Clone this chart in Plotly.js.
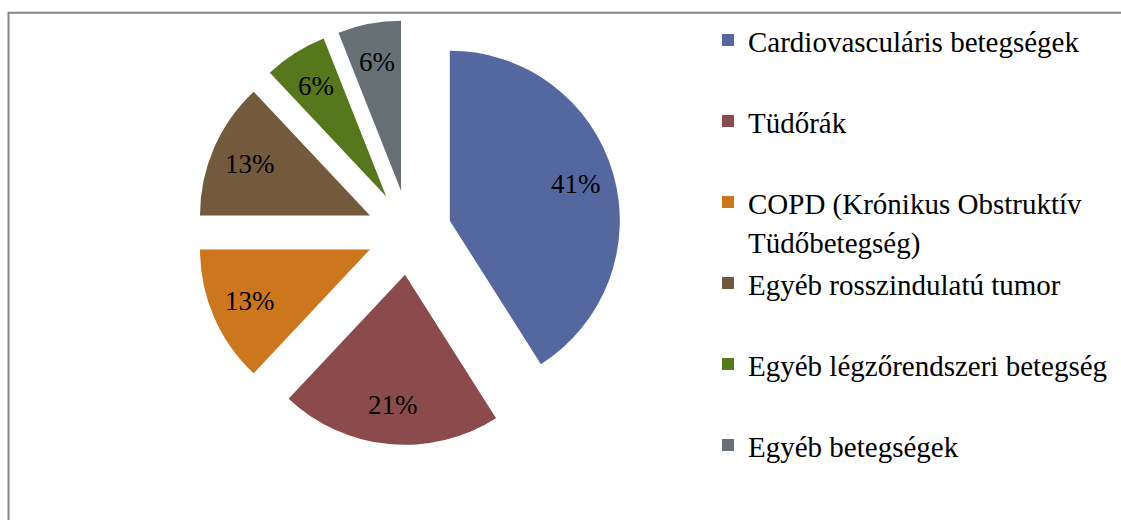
<!DOCTYPE html>
<html>
<head>
<meta charset="utf-8">
<script src="https://cdn.plot.ly/plotly-3.0.1.min.js"></script>
<style>html,body{margin:0;padding:0;background:#fff;}#chart{width:1121px;height:520px;}</style>
</head>
<body>
<div id="chart"></div>
<script>
const categories = [
  "Cardiovasculáris betegségek",
  "Tüdőrák",
  "COPD (Krónikus Obstruktív<br>Tüdőbetegség)",
  "Egyéb rosszindulatú tumor",
  "Egyéb légzőrendszeri betegség",
  "Egyéb betegségek"
];
const values = [41, 21, 13, 13, 6, 6];
const percentLabels = ["41%", "21%", "13%", "13%", "6%", "6%"];
const colors = ["#55679F", "#8B4A4B", "#CC761E", "#745A3D", "#56771B", "#677075"];

const serif = "'Liberation Serif', 'Times New Roman', serif";
const LABEL_SIZE = 27;
const LEGEND_TEXT_SIZE = 29;

// legend labels: wrap in larger span, pad to two lines so all entries are evenly spaced
const legendLabels = categories.map(c => {
  const parts = c.split("<br>");
  const lines = parts.map(p => `<span style="font-size:${LEGEND_TEXT_SIZE}px">${p}</span>`);
  while (lines.length < 2) lines.push(" ");
  return lines.join("<br>");
});

const W = 1121, H = 520;
const cx = 409, cy = 232.5, half = 212.5;
const PULL = 0.25;
const LABEL_FRAC = 0.77;

const trace = {
  type: "pie",
  labels: legendLabels,
  values: values,
  textinfo: "none",
  sort: false,
  direction: "clockwise",
  rotation: 0,
  pull: PULL,
  marker: { colors: colors, line: { width: 0 } },
  hoverinfo: "label+percent",
  domain: {
    x: [(cx - half) / W, (cx + half) / W],
    y: [1 - (cy + half) / H, 1 - (cy - half) / H]
  }
};

// percentage labels placed along each slice's mid-angle (computed from the values)
const r = half / (1 + PULL);
const total = values.reduce((a, b) => a + b, 0);
let cum = 0;
const annotations = values.map((v, i) => {
  const mid = (cum + v / 2) / total * 2 * Math.PI;
  cum += v;
  const d = r * (PULL + LABEL_FRAC);
  const px = cx + d * Math.sin(mid);
  const py = cy - d * Math.cos(mid);
  return {
    xref: "paper", yref: "paper",
    x: px / W, y: 1 - py / H,
    xanchor: "center", yanchor: "middle",
    text: percentLabels[i], showarrow: false,
    font: { family: serif, size: LABEL_SIZE, color: "#000" }
  };
});

const layout = {
  width: W,
  height: H,
  margin: { l: 0, r: 0, t: 0, b: 0 },
  paper_bgcolor: "#fff",
  showlegend: true,
  legend: {
    x: 708 / W, xanchor: "left",
    y: 1 - 14 / H, yanchor: "top",
    valign: "top",
    font: { family: serif, size: 30, color: "#000" },
    bgcolor: "rgba(0,0,0,0)"
  },
  annotations: annotations,
  shapes: [{
    type: "rect", xref: "paper", yref: "paper",
    x0: 8.5 / W, x1: 1.05, y0: -0.05, y1: 1 - 12.7 / H,
    line: { color: "#868686", width: 2 }, fillcolor: "rgba(0,0,0,0)", layer: "below"
  }]
};

Plotly.newPlot("chart", [trace], layout, { displayModeBar: false, staticPlot: true });
</script>
</body>
</html>
